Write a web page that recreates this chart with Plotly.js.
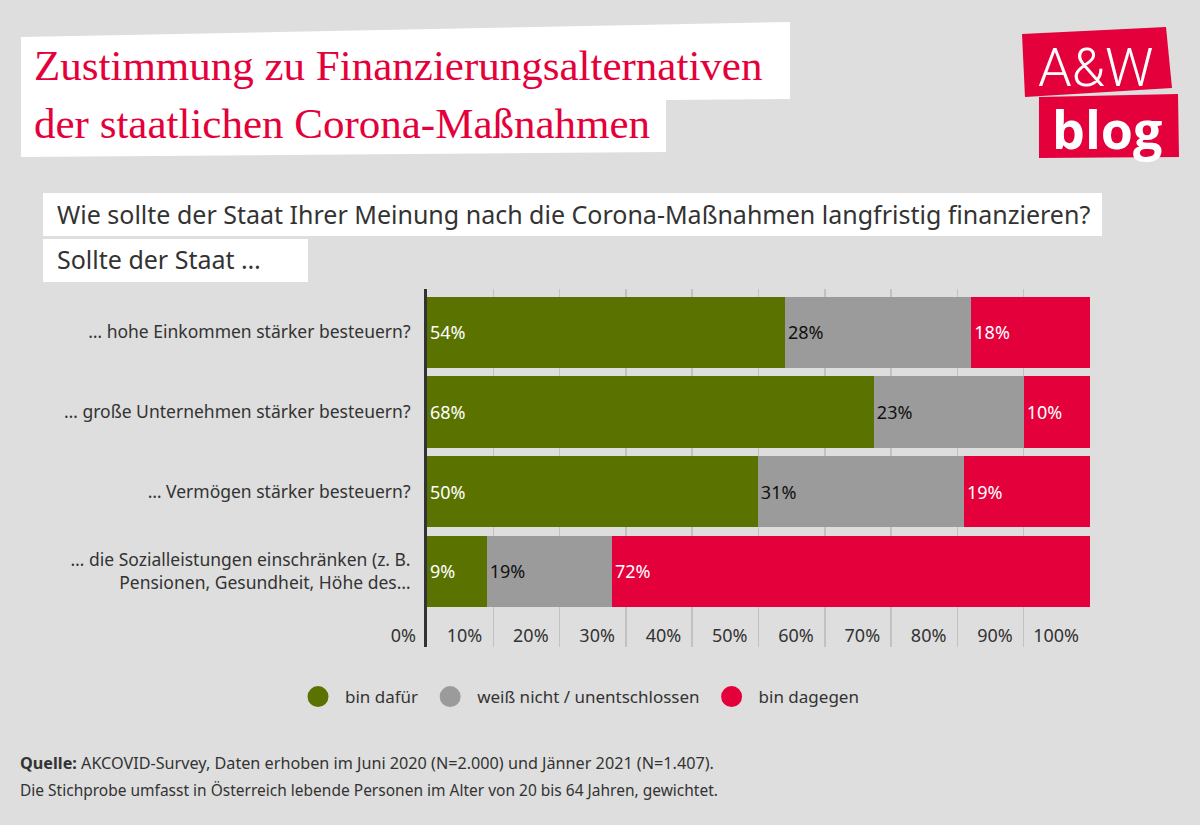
<!DOCTYPE html>
<html><head><meta charset="utf-8">
<script src="https://cdn.plot.ly/plotly-3.0.1.min.js"></script>
<style>html,body{margin:0;padding:0;background:#dedede;}</style>
</head><body>
<div id="chart" style="width:1200px;height:825px;"></div>
<script>
// ---- data ----
const categories = [
  '… hohe Einkommen stärker besteuern?',
  '… große Unternehmen stärker besteuern?',
  '… Vermögen stärker besteuern?',
  '… die Sozialleistungen einschränken (z. B.<br>Pensionen, Gesundheit, Höhe des…'
];
const seriesNames = ['bin dafür', 'weiß nicht / unentschlossen', 'bin dagegen'];
const dafuer = [54.0, 67.4, 49.9, 9.0];
const unentschlossen = [28.1, 22.6, 31.1, 18.9];
const dagegen = [17.9, 10.0, 19.0, 72.1];
const labelsDafuer = ['54%', '68%', '50%', '9%'];
const labelsUnentschlossen = ['28%', '23%', '31%', '19%'];
const labelsDagegen = ['18%', '10%', '19%', '72%'];
const tickValues = [0, 10, 20, 30, 40, 50, 60, 70, 80, 90, 100];
const tickLabels = ['0%', '10%', '20%', '30%', '40%', '50%', '60%', '70%', '80%', '90%', '100%'];

// ---- style ----
const GREEN = '#5a7300', GRAY = '#9b9b9b', RED = '#e4003a', TXT = '#333333';
const BODY = 'Noto Sans, Open Sans, sans-serif';
const W = 1200, H = 825, L = 427, R = 1090, T = 289, B = 647;
const px = x => (x - L) / (R - L);
const py = y => (B - y) / (B - T);

const values = [dafuer, unentschlossen, dagegen];
const labels = [labelsDafuer, labelsUnentschlossen, labelsDagegen];
const colors = [GREEN, GRAY, RED];
const textColors = ['#ffffff', '#111111', '#ffffff'];

const traces = values.map((v, i) => ({
  type: 'bar', orientation: 'h', x: v, y: categories, name: seriesNames[i],
  marker: {color: colors[i], line: {width: 0}},
  text: labels[i], textposition: 'inside', insidetextanchor: 'start',
  textfont: {family: BODY, size: 18, color: textColors[i]},
  constraintext: 'none', hoverinfo: 'skip', showlegend: false
}));
seriesNames.forEach((n, i) => traces.push({
  type: 'scatter', mode: 'markers', x: [null], y: [null], name: n,
  marker: {color: colors[i], size: 16, symbol: 'circle', line: {color: colors[i], width: 5}},
  hoverinfo: 'skip'
}));

function pathFrom(pts) {
  return 'M' + pts.map(p => px(p[0]).toFixed(5) + ',' + py(p[1]).toFixed(5)).join(' L') + ' Z';
}
const shapes = [
  {type: 'path', xref: 'paper', yref: 'paper', layer: 'below', line: {width: 0}, fillcolor: '#ffffff',
   path: pathFrom([[21, 37], [790, 22], [790, 99], [666, 100], [666, 152], [21, 157]])},
  {type: 'path', xref: 'paper', yref: 'paper', layer: 'below', line: {width: 0}, fillcolor: '#ffffff',
   path: pathFrom([[43, 193], [1102, 193], [1102, 236], [43, 236]])},
  {type: 'path', xref: 'paper', yref: 'paper', layer: 'below', line: {width: 0}, fillcolor: '#ffffff',
   path: pathFrom([[43, 239], [308, 239], [308, 282], [43, 282]])},
  {type: 'path', xref: 'paper', yref: 'paper', layer: 'below', line: {width: 0}, fillcolor: RED,
   path: pathFrom([[1022, 34], [1166, 27], [1172, 88], [1025, 97]])},
  {type: 'path', xref: 'paper', yref: 'paper', layer: 'below', line: {width: 0}, fillcolor: RED,
   path: pathFrom([[1039, 97], [1178, 94], [1179, 157], [1039, 158]])}
];

function ann(text, x, y, font, extra) {
  return Object.assign({text: text, xref: 'paper', yref: 'paper', x: px(x), y: py(y),
    xanchor: 'left', yanchor: 'middle', showarrow: false, align: 'left', font: font}, extra || {});
}
const titleFont = {family: 'Liberation Serif, DejaVu Serif, serif', size: 43, color: RED};
const annotations = [
  ann('Zustimmung zu Finanzierungsalternativen', 32, 65, titleFont),
  ann('der staatlichen Corona-Maßnahmen', 32, 124, titleFont),
  ann('A&W', 1036, 67, {family: 'Roboto, sans-serif', size: 54, color: '#ffffff', weight: 300}),
  ann('blog', 1050, 128, {family: 'Open Sans, sans-serif', size: 52, color: '#ffffff', weight: 700}),
  ann('Wie sollte der Staat Ihrer Meinung nach die Corona-Maßnahmen langfristig finanzieren?', 55, 214,
      {family: BODY, size: 25, color: TXT}),
  ann('Sollte der Staat …', 55, 259, {family: BODY, size: 25, color: TXT}),
  ann('<b>Quelle:</b> AKCOVID-Survey, Daten erhoben im Juni 2020 (N=2.000) und Jänner 2021 (N=1.407).', 18, 763,
      {family: BODY, size: 16.2, color: TXT}),
  ann('Die Stichprobe umfasst in Österreich lebende Personen im Alter von 20 bis 64 Jahren, gewichtet.', 18, 790,
      {family: BODY, size: 15.5, color: TXT})
];

const layout = {
  width: W, height: H,
  margin: {l: L, r: W - R, t: T, b: H - B, pad: 0},
  paper_bgcolor: '#dedede', plot_bgcolor: '#dedede',
  barmode: 'stack', bargap: 0.105,
  font: {family: BODY, color: TXT},
  xaxis: {
    range: [0, 100], tickvals: tickValues, ticktext: tickLabels,
    showgrid: true, gridcolor: '#c2c2c2', gridwidth: 1.5, zeroline: false, showline: false,
    ticks: '', anchor: 'free', position: py(623),
    ticklabelposition: 'outside left', ticklabelshift: -11,
    tickfont: {family: BODY, size: 18, color: TXT}, fixedrange: true
  },
  yaxis: {
    type: 'category', categoryorder: 'array', categoryarray: categories,
    range: [3.95, -0.544], showgrid: false, zeroline: false,
    showline: true, linecolor: '#333333', linewidth: 3, ticks: '', ticklabelstandoff: 10,
    tickfont: {family: BODY, size: 17.5, color: TXT}, fixedrange: true
  },
  showlegend: true,
  legend: {orientation: 'h', traceorder: 'normal', itemwidth: 44, x: px(291), xanchor: 'left', y: py(697), yanchor: 'middle',
    font: {family: BODY, size: 17, color: TXT}, bgcolor: 'rgba(0,0,0,0)', itemclick: false, itemdoubleclick: false},
  shapes: shapes,
  annotations: annotations
};

Plotly.newPlot('chart', traces, layout, {displayModeBar: false, staticPlot: true});
</script>
</body></html>
